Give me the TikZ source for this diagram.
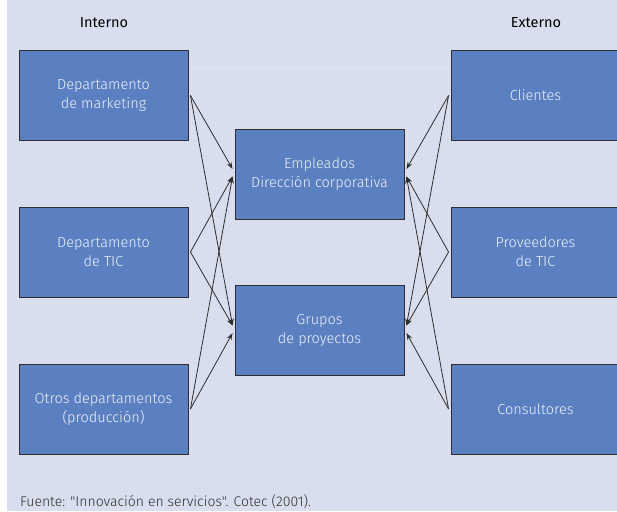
\documentclass[tikz,border=0pt]{standalone}
\usepackage{fontspec}
\setmainfont{Fira Sans}
\newfontfamily\lightf{Fira Sans}[UprightFont={* Light}]
\usetikzlibrary{arrows.meta}
\definecolor{bgc}{HTML}{D9DEEF}
\definecolor{boxc}{HTML}{5B80C1}
\definecolor{txtc}{HTML}{EEF1FA}
\definecolor{edgec}{HTML}{2E2E2E}
\tikzset{
  blk/.style={draw=edgec, line width=0.9pt, fill=boxc, minimum width=169pt, minimum height=90pt,
    inner sep=0pt, align=center, text=txtc, font=\lightf\fontsize{14.5}{19}\selectfont},
  hdr/.style={font=\fontsize{14.5}{16}\selectfont, text=black},
  conn/.style={draw=edgec, line width=0.8pt, -{Stealth[length=7pt,width=5pt]}}
}
\begin{document}
\begin{tikzpicture}[x=1pt,y=-1pt]
\useasboundingbox (0,0) rectangle (617,511);
\fill[white] (0,0) rectangle (7,511);
\fill[bgc] (7,0) rectangle (617,511);
\draw[white!25!bgc, line width=0.6pt] (188,68) -- (451,68);
\node[hdr] (hi) at (104,23) {Interno};
\node[hdr] (he) at (536,23) {Externo};
\node[blk] (l1) at (103.5,95.5) {Departamento\\de marketing};
\node[blk] (l2) at (103.5,252) {Departamento\\de TIC};
\node[blk] (l3) at (103.5,409) {Otros departamentos\\(producción)};
\node[blk] (c1) at (319.5,174) {Empleados\\Dirección corporativa};
\node[blk] (c2) at (319.5,330.5) {Grupos\\de proyectos};
\begin{scope}
\clip (0,0) rectangle (617,511);
\node[blk] (r1) at (535.5,95.5) {Clientes};
\node[blk] (r2) at (535.5,252) {Proveedores\\de TIC};
\node[blk] (r3) at (535.5,409) {Consultores};
\end{scope}
% left connectors
\draw[conn] ([xshift=2pt]l1.east) -- ([xshift=-2pt,yshift=5pt]c1.west);
\draw[conn] ([xshift=2pt]l1.east) -- ([xshift=-2pt,yshift=5pt]c2.west);
\draw[conn] ([xshift=2pt]l2.east) -- ([xshift=-2pt,yshift=-2.5pt]c1.west);
\draw[conn] ([xshift=2pt]l2.east) -- ([xshift=-2pt,yshift=5pt]c2.west);
\draw[conn] ([xshift=2pt]l3.east) -- ([xshift=-2pt,yshift=-2.5pt]c1.west);
\draw[conn] ([xshift=2pt]l3.east) -- ([xshift=-2pt,yshift=-2.5pt]c2.west);
% right connectors
\draw[conn] ([xshift=-2pt]r1.west) -- ([xshift=2pt,yshift=5pt]c1.east);
\draw[conn] ([xshift=-2pt]r1.west) -- ([xshift=2pt,yshift=5pt]c2.east);
\draw[conn] ([xshift=-2pt]r2.west) -- ([xshift=2pt,yshift=-2.5pt]c1.east);
\draw[conn] ([xshift=-2pt]r2.west) -- ([xshift=2pt,yshift=5pt]c2.east);
\draw[conn] ([xshift=-2pt]r3.west) -- ([xshift=2pt,yshift=-2.5pt]c1.east);
\draw[conn] ([xshift=-2pt]r3.west) -- ([xshift=2pt,yshift=-2.5pt]c2.east);
\node[anchor=west, inner sep=0pt, text=edgec, font=\lightf\fontsize{14}{16}\selectfont] (src) at (20,502) {Fuente: "Innovación en servicios". Cotec (2001).};
\end{tikzpicture}
\end{document}
